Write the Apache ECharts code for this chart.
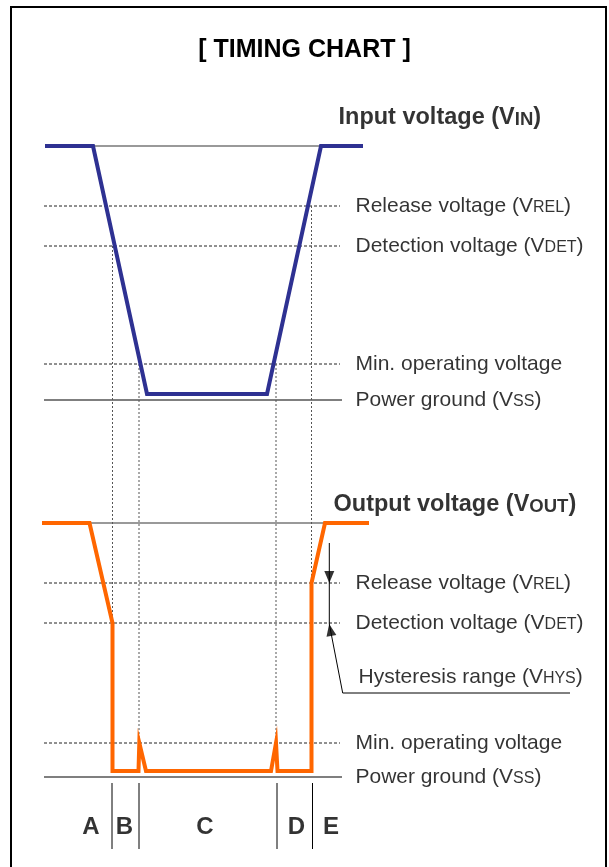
<!DOCTYPE html>
<html>
<head>
<meta charset="utf-8">
<script src="https://cdn.jsdelivr.net/npm/echarts@6/dist/echarts.min.js"></script>
<style>
html,body{margin:0;padding:0;background:#fff;}
#chart{width:609px;height:867px;}
</style>
</head>
<body>
<div id="chart"></div>
<script>
// ---------- DATA (time units on x, voltage units on y; ground = 0) ----------
const titleText = '[ TIMING CHART ]';
const inputHeader = ['Input voltage (V', 'IN', ')'];
const outputHeader = ['Output voltage (V', 'OUT', ')'];

// input waveform (VIN)
const inTime = [5, 53, 107, 227, 281, 323];
const inVolt = [25.4, 25.4, 0.6, 0.6, 25.4, 25.4];

// output waveform (VOUT)
const outTime = [2, 49.5, 72.5, 72.5, 98.5, 99.3, 106, 231, 236, 237.5, 271.5, 271.5, 285, 329];
const outVolt = [25.4, 25.4, 15.4, 0.6, 0.6, 3.4, 0.6, 0.6, 3.4, 0.6, 0.6, 19.4, 25.4, 25.4];

// reference levels
const levelNames = ['Release voltage (V', 'Detection voltage (V', 'Min. operating voltage', 'Power ground (V'];
const levelSubs = ['REL', 'DET', '', 'SS'];
const levelTails = [')', ')', '', ')'];
const inLevels = [19.4, 15.4, 3.6, 0];
const outLevels = [19.4, 15.4, 3.4, 0];
const topLevel = 25.4;
const levelLineStart = 4;
const levelLineEnd = 300;
const groundLineEnd = 302;
const inTopLine = [53, 281];
const outTopLine = [49.5, 285];

// dotted drop lines (time, start level on input, end level on output)
const dropTime = [72.5, 99, 236, 271.5];
const dropFromIn = [15.4, 3.6, 3.6, 19.4];
const dropToOut = [0.6, 3.4, 3.4, 0.6];

// phases
const phaseBounds = [72, 99, 237, 272.5];
const phaseNames = ['A', 'B', 'C', 'D', 'E'];
const phaseCenters = [51, 84.5, 165, 256.5, 291];
const phaseLabelLevel = -5.0;
const phaseLineTop = -0.6;
const phaseLineBottom = -7.2;

// hysteresis annotation (output)
const hysTime = 289.3;
const hysTop = 23.4;
const hysBottom = 15.3;
const hysLeader = [[289.3, 15.3], [302.7, 8.4], [530, 8.4]];
const hysLabel = ['Hysteresis range (V', 'HYS', ')'];
const hysLabelPos = [318, 10.0];

// label anchors
const levelLabelTime = 315;
const inHeaderPos = [298, 28.2];
const outHeaderPos = [293, 27.2];

// ---------- LAYOUT ----------
const FONT = "'Liberation Sans', Arial, Helvetica, sans-serif";
const OUT_ON_IN = -37.7; // output ground expressed on the input axis
const BLUE = '#2E3192', ORANGE = '#FF6600';

const zip = (a, b) => a.map((v, i) => [v, b[i]]);

function seg(g, pts, lineStyle, z) {
  return {type: 'line', xAxisIndex: g, yAxisIndex: g, data: pts, symbol: 'none',
    lineStyle: lineStyle, silent: true, z: z || 2, clip: false};
}
function txt(g, pos, formatter, size, bold, sub, pos2) {
  return {type: 'scatter', xAxisIndex: g, yAxisIndex: g, data: [pos], symbolSize: 1,
    itemStyle: {color: 'rgba(0,0,0,0)'}, silent: true, z: 5, clip: false,
    label: {show: true, position: pos2 || 'right', distance: 0, formatter: formatter,
      color: '#000', fontFamily: FONT, fontSize: size, fontWeight: bold ? 'bold' : 'normal',
      rich: {
        n: {fontFamily: FONT, fontSize: size, fontWeight: bold ? 'bold' : 'normal', color: '#000', verticalAlign: 'bottom'},
        s: {fontFamily: FONT, fontSize: sub, fontWeight: bold ? 'bold' : 'normal', color: '#000', verticalAlign: 'bottom', padding: [0, 0, 1, 0]}
      }}};
}
function richFmt(a, b, c) {
  return b ? '{n|' + a + '}{s|' + b + '}{n|' + c + '}' : '{n|' + a + '}';
}

const dashStyle = {color: '#222', width: 1, type: [3, 2]};
const dotStyle = {color: '#555', width: 1, type: [2, 2]};
const groundStyle = {color: '#555', width: 1.3};
const topStyle = {color: '#777', width: 1.4};

const series = [];
[0, 1].forEach(g => {
  const lv = g === 0 ? inLevels : outLevels;
  lv.forEach((v, i) => {
    const end = i === 3 ? groundLineEnd : levelLineEnd;
    series.push(seg(g, [[levelLineStart, v], [end, v]], i === 3 ? groundStyle : dashStyle, 1));
    series.push(txt(g, [levelLabelTime, v], richFmt(levelNames[i], levelSubs[i], levelTails[i]), 21, false, 16));
  });
  const tl = g === 0 ? inTopLine : outTopLine;
  series.push(seg(g, [[tl[0], topLevel], [tl[1], topLevel]], topStyle, 1));
});
// drop lines (drawn on the input axis, extending into the output panel)
dropTime.forEach((t, i) => {
  series.push(seg(0, [[t, dropFromIn[i]], [t, dropToOut[i] + OUT_ON_IN]], dotStyle, 1));
});
// waveforms
series.push(seg(0, zip(inTime, inVolt), {color: BLUE, width: 4, join: 'miter'}, 4));
series.push(seg(1, zip(outTime, outVolt), {color: ORANGE, width: 4, join: 'miter'}, 4));
// headers
series.push(txt(0, inHeaderPos, richFmt(inputHeader[0], inputHeader[1], inputHeader[2]), 23.5, true, 18.5));
series.push(txt(1, outHeaderPos, richFmt(outputHeader[0], outputHeader[1], outputHeader[2]), 23.5, true, 18.5));
// phases
phaseBounds.forEach(t => series.push(seg(1, [[t, phaseLineTop], [t, phaseLineBottom]], {color: '#000', width: 1}, 1)));
phaseNames.forEach((n, i) => series.push(txt(1, [phaseCenters[i], phaseLabelLevel], '{n|' + n + '}', 24, true, 24, 'inside')));
// hysteresis
series.push(seg(1, [[hysTime, hysTop], [hysTime, hysBottom]], {color: '#000', width: 1}, 3));
series.push(seg(1, hysLeader, {color: '#000', width: 1}, 3));
series.push({type: 'scatter', xAxisIndex: 1, yAxisIndex: 1, silent: true, z: 4, clip: false,
  data: [{value: [hysTime, outLevels[0] + 0.6], symbolRotate: 180}, {value: [hysTime + 1.0, hysBottom - 0.6], symbolRotate: 11}],
  symbol: 'triangle', symbolSize: [10, 12], itemStyle: {color: '#000'}});
series.push(txt(1, hysLabelPos, richFmt(hysLabel[0], hysLabel[1], hysLabel[2]), 21, false, 16));

const chart = echarts.init(document.getElementById('chart'), null, {renderer: 'canvas'});
chart.setOption({
  animation: false,
  backgroundColor: '#fff',
  title: {text: titleText, left: 'center', top: 33,
    textStyle: {fontFamily: FONT, fontSize: 25, fontWeight: 'bold', color: '#000'}},
  grid: [
    {left: 40, right: 0, top: 100, height: 750},
    {left: 40, right: 0, top: 477, height: 380}
  ],
  xAxis: [
    {type: 'value', gridIndex: 0, min: 0, max: 569, show: false},
    {type: 'value', gridIndex: 1, min: 0, max: 569, show: false}
  ],
  yAxis: [
    {type: 'value', gridIndex: 0, min: -45, max: 30, show: false},
    {type: 'value', gridIndex: 1, min: -8, max: 30, show: false}
  ],
  graphic: [{type: 'rect', shape: {x: 11, y: 7, width: 595, height: 900},
    style: {fill: 'none', stroke: '#000', lineWidth: 2}, silent: true, z: 10}],
  series: series
});
</script>
</body>
</html>
